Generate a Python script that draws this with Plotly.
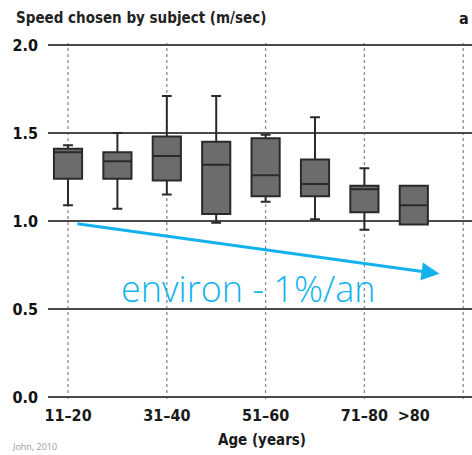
import plotly.graph_objects as go

# ---- data ----
age_groups = ["11–20", "21–30", "31–40", "41–50", "51–60", "61–70", "71–80", ">80"]
positions = [0, 1, 2, 3, 4, 5, 6, 7]
upper_whisker = [1.43, 1.50, 1.71, 1.71, 1.49, 1.59, 1.30, 1.20]
q3_values = [1.41, 1.39, 1.48, 1.45, 1.47, 1.35, 1.20, 1.20]
medians = [1.39, 1.34, 1.37, 1.32, 1.26, 1.21, 1.18, 1.09]
q1_values = [1.24, 1.24, 1.23, 1.04, 1.14, 1.14, 1.05, 0.98]
lower_whisker = [1.09, 1.07, 1.15, 0.99, 1.11, 1.01, 0.95, 0.98]

tick_positions = [0, 2, 4, 6, 7]
tick_labels = ["11–20", "31–40", "51–60", "71–80", ">80"]
grid_positions = [0, 2, 4, 6, 8]
y_ticks = [0.0, 0.5, 1.0, 1.5, 2.0]
y_tick_labels = ["0.0", "0.5", "1.0", "1.5", "2.0"]

trend_start = (0.16, 0.985)
trend_end = (7.52, 0.70)
trend_label = "environ - 1%/an"

W, H = 472, 455
L, R, T = 48, 0, 43
B = H - 399
PW, PH = W - L - R, H - T - B

def px_x(px):
    return (px - L) / PW

def px_y(py):
    return (H - B - py) / PH

BOLD = "DejaVu Sans Condensed, Liberation Sans Narrow, Arial Narrow, sans-serif"
BLUE = "#12b2ee"

fig = go.Figure()
fig.add_trace(go.Box(
    x=positions,
    q1=q1_values, median=medians, q3=q3_values,
    lowerfence=lower_whisker, upperfence=upper_whisker,
    width=0.57, whiskerwidth=0.35,
    fillcolor="#6c6c6e",
    line=dict(color="#2a2a2a", width=2),
    boxpoints=False, hoverinfo="skip", showlegend=False,
))

shapes = []
for gx in grid_positions:
    shapes.append(dict(type="line", xref="x", yref="paper", x0=gx, x1=gx, y0=0, y1=1,
                       line=dict(color="#8a8a8a", width=1.3, dash="dot"), layer="below"))

fig.update_layout(
    width=W, height=H,
    margin=dict(l=L, r=R, t=T, b=B),
    paper_bgcolor="white", plot_bgcolor="white",
    shapes=shapes,
    title=dict(text="Speed chosen by subject (m/sec)", xref="container", yref="container",
               x=16 / W, y=1 - 18 / H, xanchor="left", yanchor="middle",
               font=dict(family=BOLD, size=15, color="#222", weight="bold")),
    xaxis=dict(range=[-0.405, -0.405 + PW / 49.4], tickmode="array",
               tickvals=tick_positions, ticktext=tick_labels,
               showgrid=False, zeroline=False, showline=False, ticks="",
               ticklabelstandoff=5,
               tickfont=dict(family=BOLD, size=16, color="#1a1a1a", weight="bold")),
    yaxis=dict(range=[-2 / 176, 2 + 2 / 176], tickmode="array",
               tickvals=y_ticks, ticktext=y_tick_labels,
               showgrid=True, gridcolor="#4a4a4a", gridwidth=1.5,
               zeroline=False, showline=False, ticks="",
               ticklabelstandoff=9,
               tickfont=dict(family=BOLD, size=16, color="#111", weight="bold")),
)

fig.add_annotation(x=trend_end[0], y=trend_end[1], ax=trend_start[0], ay=trend_start[1],
                   xref="x", yref="y", axref="x", ayref="y", text="",
                   showarrow=True, arrowhead=2, arrowsize=1.2, arrowwidth=3,
                   arrowcolor=BLUE)
fig.add_annotation(x=3.66, y=0.615, xref="x", yref="y", text=trend_label, showarrow=False,
                   font=dict(family="Open Sans, Lato, sans-serif", size=36, color=BLUE, weight=300))
fig.add_annotation(x=px_x(262), y=px_y(440), xref="paper", yref="paper",
                   text="Age (years)", showarrow=False, xanchor="center", yanchor="middle",
                   font=dict(family=BOLD, size=15, color="#1a1a1a", weight="bold"))
fig.add_annotation(x=px_x(457), y=px_y(18), xref="paper", yref="paper",
                   text="a", showarrow=False, xanchor="left", yanchor="middle",
                   font=dict(family=BOLD, size=16, color="#1a1a1a", weight="bold"))
fig.add_annotation(x=px_x(10), y=px_y(447), xref="paper", yref="paper",
                   text="John, 2010", showarrow=False, xanchor="left", yanchor="middle",
                   font=dict(family="Open Sans, sans-serif", size=9, color="#999"))

# remove the browser's default 8px body margin so the figure fills the window
fig.write_html("out.html", config={"displayModeBar": False},
               post_script="document.body.style.margin='0';document.body.style.overflow='hidden';")
